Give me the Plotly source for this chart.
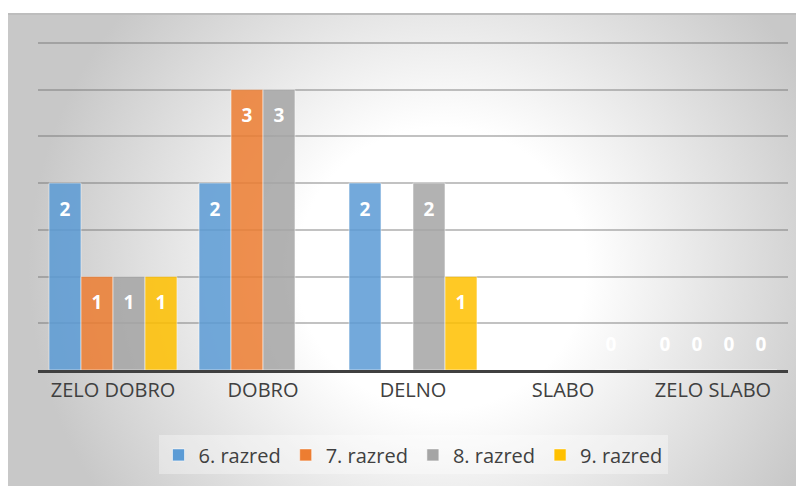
import base64
import plotly.graph_objects as go

# data
categories = ["ZELO DOBRO", "DOBRO", "DELNO", "SLABO", "ZELO SLABO"]
razred_6 = [2, 2, 2, None, 0]
razred_7 = [1, 3, None, None, 0]
razred_8 = [1, 3, 2, None, 0]
razred_9 = [1, None, 1, 0, 0]

series = [
    ("6. razred", razred_6, "#5B9BD5"),
    ("7. razred", razred_7, "#ED7D31"),
    ("8. razred", razred_8, "#A5A5A5"),
    ("9. razred", razred_9, "#FFC000"),
]

FONT = "Open Sans"

fig = go.Figure()

for name, vals, color in series:
    fig.add_trace(go.Bar(
        x=categories, y=vals, name=name,
        marker=dict(color=color, opacity=0.85,
                    line=dict(color="rgba(255,255,255,0.55)", width=1)),
        hoverinfo="x+y+name",
    ))

# data labels, "inside end" like Excel (zeros sit just above the axis)
for name, vals, color in series:
    label_y = [None if v is None else (v - 0.3 if v > 0 else 0.25) for v in vals]
    fig.add_trace(go.Scatter(
        x=categories, y=label_y, mode="text",
        text=[None if v is None else str(v) for v in vals],
        textposition="middle center",
        textfont=dict(family=FONT, size=19, color="white", weight="bold"),
        showlegend=False, hoverinfo="skip",
    ))

# Excel-like radial gradient chart area
svg = """<svg xmlns="http://www.w3.org/2000/svg" width="800" height="480" viewBox="0 0 800 480" preserveAspectRatio="none">
<defs><radialGradient id="g" gradientUnits="userSpaceOnUse" cx="425" cy="257" r="405">
<stop offset="0" stop-color="#ffffff"/><stop offset="0.35" stop-color="#ffffff"/>
<stop offset="1" stop-color="#c8c8c8"/></radialGradient></defs>
<rect x="0" y="0" width="800" height="480" fill="url(#g)"/>
<line x1="0" y1="1" x2="800" y2="1" stroke="#bdbdbd" stroke-width="2"/>
</svg>"""
bg_src = "data:image/svg+xml;base64," + base64.b64encode(svg.encode()).decode()

# page body adds an 8px margin, so the figure is 8px smaller each way
# plot area in figure px: x 30..780, y 33..362
fig.add_layout_image(dict(
    source=bg_src, xref="paper", yref="paper",
    x=-0.04, y=1.085, sizex=1.088, sizey=1.45,
    xanchor="left", yanchor="top", sizing="stretch", layer="below",
))

fig.update_layout(
    width=796, height=478,
    margin=dict(l=30, r=16, t=33, b=116, autoexpand=False),
    paper_bgcolor="white", plot_bgcolor="rgba(0,0,0,0)",
    barmode="group", bargap=0.147, bargroupgap=0.0,
    scattermode="group", scattergap=0.147,
    font=dict(family=FONT, color="#404040"),
    showlegend=True,
    legend=dict(
        orientation="h", x=0.5, xanchor="center", y=-0.258, yanchor="middle",
        bgcolor="rgba(255,255,255,0.35)",
        font=dict(family=FONT, size=20, color="#404040"),
        itemwidth=30,
    ),
)

fig.update_xaxes(
    showline=True, linecolor="#404040", linewidth=3,
    ticks="", tickfont=dict(family=FONT, size=20, color="#404040"),
    showgrid=False, automargin=False,
)
fig.update_yaxes(
    range=[0, 3.52], dtick=0.5, showticklabels=False,
    showgrid=True, gridcolor="rgba(110,110,110,0.42)", gridwidth=1.5,
    zeroline=False, showline=False, automargin=False,
)

fig.write_html("out.html")
